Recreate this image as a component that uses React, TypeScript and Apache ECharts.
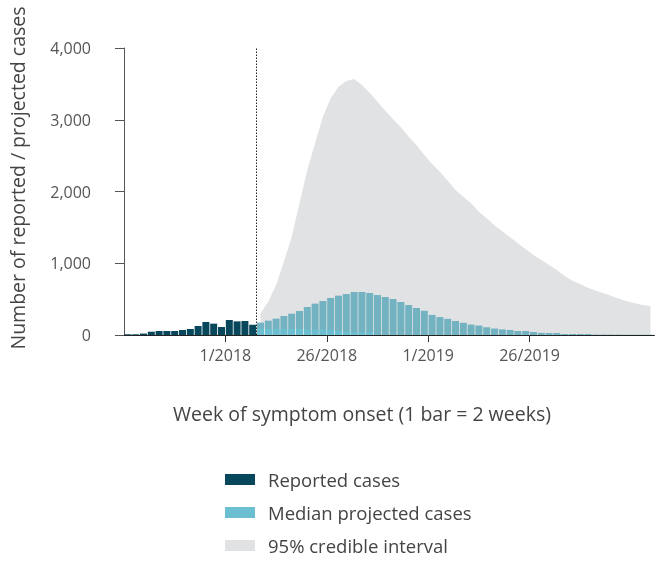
import React, { useEffect, useRef } from 'react';
import * as echarts from 'echarts';

// Bar index 0 = first fortnight shown; 1 bar = 2 weeks
const totalBars = 68;
const reportedStart = 0;
const reportedCases = [10, 10, 20, 46, 56, 56, 56, 70, 84, 125, 181, 158, 111, 209, 190, 195, 144];
const projectedStart = 17;
const medianProjected = [
  172, 200, 228, 265, 297, 334, 390, 437, 474, 516, 548, 571, 599, 599, 585, 557, 530, 502, 460, 418,
  376, 337, 280, 250, 225, 195, 170, 145, 132, 108, 90, 78, 68, 56, 56, 42, 30, 28, 28, 14,
  14, 14, 14, 6, 6, 5, 5, 4, 4, 4, 4,
];
const upperCI = [
  302, 465, 697, 1022, 1370, 1835, 2300, 2671, 3043, 3298, 3461, 3540, 3568, 3484, 3378, 3252, 3127, 3006, 2894, 2764,
  2648, 2509, 2383, 2276, 2151, 2021, 1928, 1835, 1719, 1626, 1528, 1445, 1361, 1278, 1194, 1115, 1045, 976, 906, 822,
  757, 706, 660, 618, 581, 544, 506, 469, 441, 418, 405,
];
const lowerCI = [
  90, 85, 85, 85, 85, 85, 75, 75, 75, 75, 60, 50, 40, 40, 40, 0, 0, 0, 0, 0,
  0, 0, 0, 0, 0, 0, 0, 0, 0, 0, 0, 0, 0, 0, 0, 0, 0, 0, 0, 0,
  0, 0, 0, 0, 0, 0, 0, 0, 0, 0, 0,
];
const tickBars = [13, 26, 39, 52];
const tickLabels = ['1/2018', '26/2018', '1/2019', '26/2019'];
const yMax = 4000;
const yStep = 1000;

const FONT = '"Open Sans", "Noto Sans", sans-serif';
const DARK = '#06475c';
const TEAL = '#73b3c1';
const TEAL_BRIGHT = '#6bbfd1';
const GREY = '#e1e2e4';

export default function App() {
  const ref = useRef<HTMLDivElement>(null);
  useEffect(() => {
    if (!ref.current) return;
    const chart = echarts.init(ref.current, null, { renderer: 'svg' });
    const at = (start: number, i: number) => start + i + 0.5;
    const reportedData = reportedCases.map((v, i) => [at(reportedStart, i), v]);
    const medianData = medianProjected.map((v, i) => [at(projectedStart, i), v]);
    const upperData = upperCI.map((v, i) => [at(projectedStart, i), v]);
    const lowerData = lowerCI.map((v, i) => [at(projectedStart, i), v]);
    const brightData = medianProjected.map((v, i) => [at(projectedStart, i), Math.min(v, lowerCI[i])]);

    chart.setOption({
      animation: false,
      textStyle: { fontFamily: FONT },
      grid: { left: 124, top: 48, width: totalBars * 7.8, height: 287, containLabel: false },
      legend: {
        orient: 'vertical',
        left: 220,
        top: 465,
        height: 120,
        icon: 'rect',
        itemWidth: 30,
        itemHeight: 11,
        itemGap: 14,
        selectedMode: false,
        textStyle: { fontFamily: FONT, fontSize: 18.5, color: '#444', padding: [0, 0, 0, 8] },
        data: [
          { name: 'Reported cases', itemStyle: { color: DARK } },
          { name: 'Median projected cases', itemStyle: { color: TEAL_BRIGHT } },
          { name: '95% credible interval', itemStyle: { color: GREY } },
        ],
      },
      xAxis: {
        type: 'value',
        min: 0,
        max: totalBars,
        splitLine: { show: false },
        axisLine: { show: true, lineStyle: { color: '#222', width: 1 } },
        axisTick: { show: true, length: 7, lineStyle: { color: '#333' }, customValues: tickBars },
        axisLabel: {
          customValues: tickBars,
          margin: 12,
          fontFamily: FONT,
          fontSize: 16,
          color: '#555',
          formatter: (v: number) => {
            const k = tickBars.indexOf(Math.round(v));
            return k >= 0 ? tickLabels[k] : '';
          },
        },
      },
      yAxis: {
        type: 'value',
        min: 0,
        max: yMax,
        interval: yStep,
        offset: 20,
        splitLine: { show: false },
        axisLine: { show: true, lineStyle: { color: '#555', width: 1 } },
        axisTick: { show: true, length: 9, lineStyle: { color: '#555' } },
        axisLabel: {
          margin: 13,
          fontFamily: FONT,
          fontSize: 16,
          color: '#555',
          formatter: (v: number) => v.toLocaleString('en-US'),
        },
      },
      graphic: [
        {
          type: 'text',
          x: 17,
          y: 178,
          rotation: Math.PI / 2,
          style: {
            text: 'Number of reported / projected cases',
            fontFamily: FONT,
            fontSize: 19.5,
            fill: '#444',
            align: 'center',
            verticalAlign: 'middle',
          },
        },
        {
          type: 'text',
          x: 362,
          y: 413,
          style: {
            text: 'Week of symptom onset (1 bar = 2 weeks)',
            fontFamily: FONT,
            fontSize: 19.5,
            fill: '#444',
            align: 'center',
            verticalAlign: 'middle',
          },
        },
      ],
      series: [
        {
          name: '95% credible interval',
          type: 'line',
          data: upperData,
          symbol: 'none',
          lineStyle: { width: 0, opacity: 0 },
          areaStyle: { color: GREY, opacity: 1 },
          itemStyle: { color: GREY },
          z: 1,
          silent: true,
        },
        {
          name: 'lower bound',
          type: 'line',
          data: lowerData,
          symbol: 'none',
          lineStyle: { width: 0, opacity: 0 },
          areaStyle: { color: '#ffffff', opacity: 1 },
          z: 1,
          silent: true,
        },
        {
          name: 'Reported cases',
          type: 'bar',
          data: reportedData,
          barWidth: 7,
          barGap: '-100%',
          itemStyle: { color: DARK },
          z: 2,
          markLine: {
            silent: true,
            symbol: 'none',
            label: { show: false },
            lineStyle: { type: [1.5, 1.5], color: '#222', width: 1 },
            data: [{ xAxis: projectedStart }],
          },
        },
        {
          name: 'Median projected cases',
          type: 'bar',
          data: medianData,
          barWidth: 7,
          barGap: '-100%',
          itemStyle: { color: TEAL },
          z: 2,
        },
        {
          name: 'below lower bound',
          type: 'bar',
          data: brightData,
          barWidth: 7,
          barGap: '-100%',
          itemStyle: { color: TEAL_BRIGHT },
          z: 3,
          silent: true,
        },
      ],
    });
    return () => chart.dispose();
  }, []);
  return <div ref={ref} style={{ position: 'fixed', left: 0, top: 0, width: 660, height: 561 }} />;
}
